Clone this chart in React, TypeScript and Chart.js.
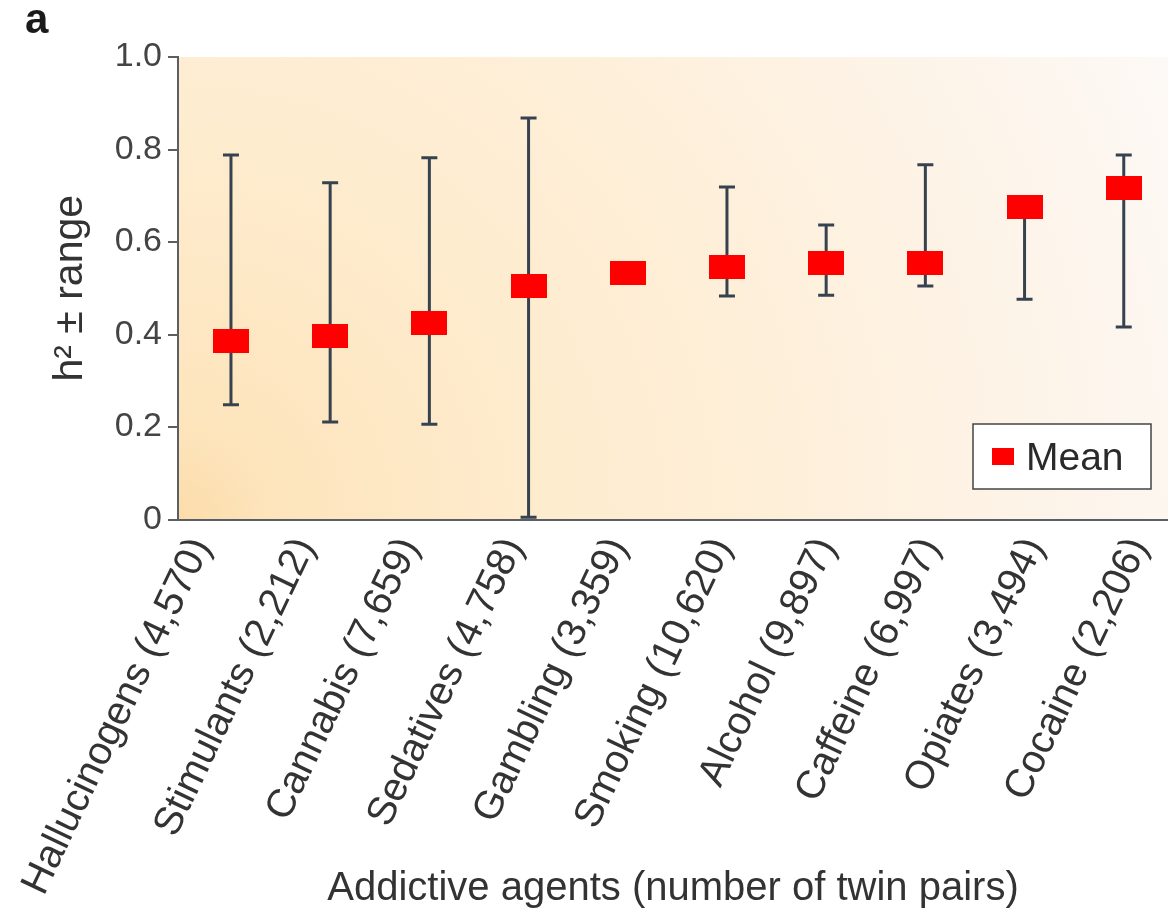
import React, { useEffect, useRef } from 'react';
import { Chart, registerables } from 'chart.js';

Chart.register(...registerables);

const categories = [
  'Hallucinogens (4,570)',
  'Stimulants (2,212)',
  'Cannabis (7,659)',
  'Sedatives (4,758)',
  'Gambling (3,359)',
  'Smoking (10,620)',
  'Alcohol (9,897)',
  'Caffeine (6,997)',
  'Opiates (3,494)',
  'Cocaine (2,206)',
];
const meanValues = [0.385, 0.397, 0.425, 0.505, 0.534, 0.547, 0.555, 0.554, 0.676, 0.716];
const minValues = [0.248, 0.211, 0.206, 0.005, 0.534, 0.483, 0.485, 0.505, 0.476, 0.416];
const maxValues = [0.788, 0.728, 0.782, 0.868, 0.534, 0.719, 0.637, 0.767, 0.69, 0.788];
const yTickValues = [0, 0.2, 0.4, 0.6, 0.8, 1.0];

const FONT = "'Liberation Sans', Arial, Helvetica, sans-serif";
const BAR_COLOR = '#36434f';
const RED = '#ff0000';

// label anchors on the x scale (labels are spread slightly wider than the points)
const LABEL_START = -0.3;
const LABEL_STEP = 1.05;

const backgroundPlugin = {
  id: 'bgGradient',
  beforeDraw(chart: any) {
    const { ctx, chartArea, width, height } = chart;
    ctx.save();
    ctx.fillStyle = '#ffffff';
    ctx.fillRect(0, 0, width, height);
    const { left, right, top, bottom } = chartArea;
    const r = Math.hypot(right - left, bottom - top);
    const g = ctx.createRadialGradient(left, bottom, 0, left, bottom, r);
    g.addColorStop(0, '#fcdcaa');
    g.addColorStop(0.08, '#fde4bb');
    g.addColorStop(0.3, '#feebcc');
    g.addColorStop(0.55, '#feefd9');
    g.addColorStop(0.8, '#fdf4e9');
    g.addColorStop(1, '#fdf9f6');
    ctx.fillStyle = g;
    ctx.fillRect(left, top, right - left, bottom - top);
    ctx.restore();
  },
};

const errorBarPlugin = {
  id: 'errorBars',
  beforeDatasetsDraw(chart: any) {
    const { ctx } = chart;
    const xs = chart.scales.x;
    const ys = chart.scales.y;
    ctx.save();
    ctx.strokeStyle = BAR_COLOR;
    ctx.lineWidth = 3;
    ctx.lineCap = 'butt';
    for (let i = 0; i < categories.length; i++) {
      if (maxValues[i] <= minValues[i]) continue;
      const x = xs.getPixelForValue(i);
      const y1 = ys.getPixelForValue(minValues[i]);
      const y2 = ys.getPixelForValue(maxValues[i]);
      ctx.beginPath();
      ctx.moveTo(x, y1);
      ctx.lineTo(x, y2);
      ctx.moveTo(x - 8, y1);
      ctx.lineTo(x + 8, y1);
      ctx.moveTo(x - 8, y2);
      ctx.lineTo(x + 8, y2);
      ctx.stroke();
    }
    ctx.restore();
  },
};

const overlayPlugin = {
  id: 'overlay',
  afterDraw(chart: any) {
    const { ctx } = chart;
    ctx.save();
    // legend box
    ctx.fillStyle = '#ffffff';
    ctx.fillRect(973, 424, 178, 65);
    ctx.strokeStyle = '#444444';
    ctx.lineWidth = 1.5;
    ctx.strokeRect(973, 424, 178, 65);
    ctx.fillStyle = RED;
    ctx.fillRect(992, 448, 22, 17);
    ctx.fillStyle = '#2a2a2a';
    ctx.font = `39px ${FONT}`;
    ctx.textBaseline = 'alphabetic';
    ctx.textAlign = 'left';
    ctx.fillText('Mean', 1026, 470);
    // panel letter
    ctx.fillStyle = '#1a1a1a';
    ctx.font = `bold 42px ${FONT}`;
    ctx.fillText('a', 25, 33);
    ctx.restore();
  },
};

function makeMarker(): HTMLCanvasElement {
  const c = document.createElement('canvas');
  c.width = 36;
  c.height = 24;
  const g = c.getContext('2d')!;
  g.fillStyle = RED;
  g.fillRect(0, 0, 36, 24);
  return c;
}

export default function App() {
  const canvasRef = useRef<HTMLCanvasElement | null>(null);

  useEffect(() => {
    document.body.style.margin = '0';
    const canvas = canvasRef.current;
    if (!canvas) return;
    const marker = makeMarker();
    const chart = new Chart(canvas, {
      type: 'scatter',
      data: {
        datasets: [
          {
            label: 'Mean',
            data: meanValues.map((v, i) => ({ x: i, y: v })),
            pointStyle: marker as any,
            pointRadius: 12,
            backgroundColor: RED,
            borderColor: RED,
          },
        ],
      },
      options: {
        responsive: false,
        animation: false,
        devicePixelRatio: 1,
        layout: { autoPadding: false, padding: { top: 57, left: 0, right: 0, bottom: 0 } },
        plugins: {
          legend: { display: false },
          tooltip: { enabled: false },
        },
        scales: {
          x: {
            type: 'linear',
            min: -0.534,
            max: 9.446,
            afterBuildTicks: (s: any) => {
              s.ticks = categories.map((_, i) => ({ value: LABEL_START + i * LABEL_STEP }));
            },
            afterFit: (s: any) => {
              s.height = 913 - 519.5;
              s.paddingLeft = 0;
              s.paddingRight = 0;
            },
            ticks: {
              autoSkip: false,
              minRotation: 64.5,
              maxRotation: 64.5,
              padding: 11,
              labelOffset: 0,
              color: '#333333',
              font: { family: FONT, size: 40 },
              callback: (_v: any, index: number) => categories[index] ?? '',
            },
            grid: { display: false, drawTicks: false },
            border: { display: true, color: '#5a5f66', width: 2 },
            title: {
              display: true,
              text: 'Addictive agents (number of twin pairs)',
              color: '#333333',
              font: { family: FONT, size: 40 },
              padding: { top: 0, bottom: 0 },
            },
          },
          y: {
            min: 0,
            max: 1,
            afterBuildTicks: (s: any) => {
              s.ticks = yTickValues.map((v) => ({ value: v }));
            },
            afterFit: (s: any) => {
              s.width = 178;
            },
            ticks: {
              padding: 6,
              color: '#444444',
              font: { family: FONT, size: 34 },
              callback: (v: any) => (Number(v) === 0 ? '0' : Number(v).toFixed(1)),
            },
            grid: {
              display: true,
              drawOnChartArea: false,
              drawTicks: true,
              tickLength: 10,
              color: '#5a5f66',
              lineWidth: 2,
            },
            border: { display: true, color: '#5a5f66', width: 2 },
            title: {
              display: true,
              text: 'h² ± range',
              color: '#333333',
              font: { family: FONT, size: 41 },
              padding: { top: 46, bottom: 0 },
            },
          },
        },
      },
      plugins: [backgroundPlugin, errorBarPlugin, overlayPlugin],
    });
    return () => chart.destroy();
  }, []);

  return (
    <div style={{ width: 1168, height: 913 }}>
      <canvas ref={canvasRef} width={1168} height={913} />
    </div>
  );
}
